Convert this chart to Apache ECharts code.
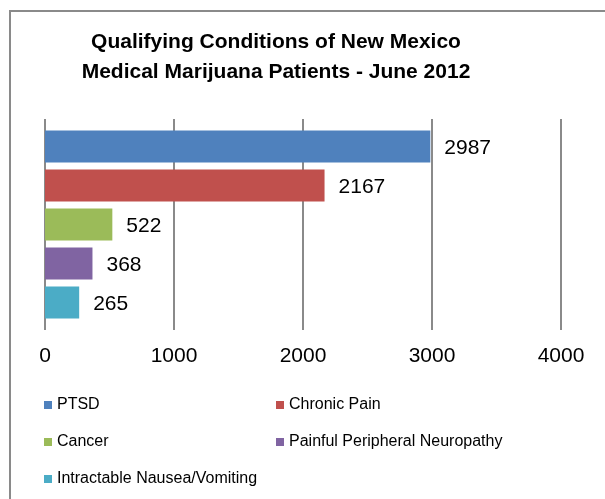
<!DOCTYPE html>
<html>
<head>
<meta charset="utf-8">
<script src="https://cdn.jsdelivr.net/npm/echarts@6/dist/echarts.min.js"></script>
<style>html,body{margin:0;padding:0;background:#fff;}#c{width:605px;height:499px;}</style>
</head>
<body>
<div id="c"></div>
<script>
const titleText = 'Qualifying Conditions of New Mexico\nMedical Marijuana Patients - June 2012';
const categories = ['Conditions'];
const seriesNames = ['PTSD', 'Chronic Pain', 'Cancer', 'Painful Peripheral Neuropathy', 'Intractable Nausea/Vomiting'];
const seriesValues = [2987, 2167, 522, 368, 265];
const seriesColors = ['#4f81bd', '#c0504d', '#9bbb59', '#8064a2', '#4bacc6'];
const xTicks = [0, 1000, 2000, 3000, 4000];

const FONT = '"Liberation Sans", Arial, sans-serif';
const chart = echarts.init(document.getElementById('c'), null, {renderer: 'canvas'});
const series = seriesNames.map((n, i) => ({
  name: n,
  type: 'bar',
  data: [seriesValues[i]],
  barWidth: 32,
  barGap: '22%',
  itemStyle: {color: seriesColors[i]},
  label: {show: true, position: 'right', distance: 14, offset: [0, 2], color: '#000', fontSize: 21, fontFamily: FONT},
  animation: false
}));
chart.setOption({
  animation: false,
  title: {
    text: titleText, left: 271, top: 22, textAlign: 'center',
    textStyle: {fontFamily: FONT, fontWeight: 'bold', fontSize: 21, color: '#000', lineHeight: 30}
  },
  graphic: [{
    type: 'rect', shape: {x: 10, y: 11, width: 700, height: 600},
    style: {fill: 'none', stroke: '#8a8a8a', lineWidth: 2}, z: -10
  }],
  legend: [
    {data: [seriesNames[0], seriesNames[2], seriesNames[4]], orient: 'vertical', left: 44, top: 397,
     icon: 'rect', itemWidth: 8, itemHeight: 8, itemGap: 21, padding: 0,
     textStyle: {fontFamily: FONT, fontSize: 16, color: '#000'}},
    {data: [seriesNames[1], seriesNames[3]], orient: 'vertical', left: 276, top: 397,
     icon: 'rect', itemWidth: 8, itemHeight: 8, itemGap: 21, padding: 0,
     textStyle: {fontFamily: FONT, fontSize: 16, color: '#000'}}
  ],
  grid: {left: 45, right: 44, top: 119, bottom: 169, containLabel: false},
  xAxis: {
    type: 'value', min: xTicks[0], max: xTicks[xTicks.length - 1], interval: 1000,
    axisLine: {show: false}, axisTick: {show: false},
    axisLabel: {fontFamily: FONT, fontSize: 21, color: '#000', margin: 16,
      formatter: v => xTicks.includes(v) ? String(v) : ''},
    splitLine: {show: true, lineStyle: {color: '#8a8a8a', width: 2}}
  },
  yAxis: {
    type: 'category', data: categories, inverse: true,
    axisLine: {show: false}, axisTick: {show: false}, axisLabel: {show: false}, splitLine: {show: false}
  },
  series: series
});
</script>
</body>
</html>
